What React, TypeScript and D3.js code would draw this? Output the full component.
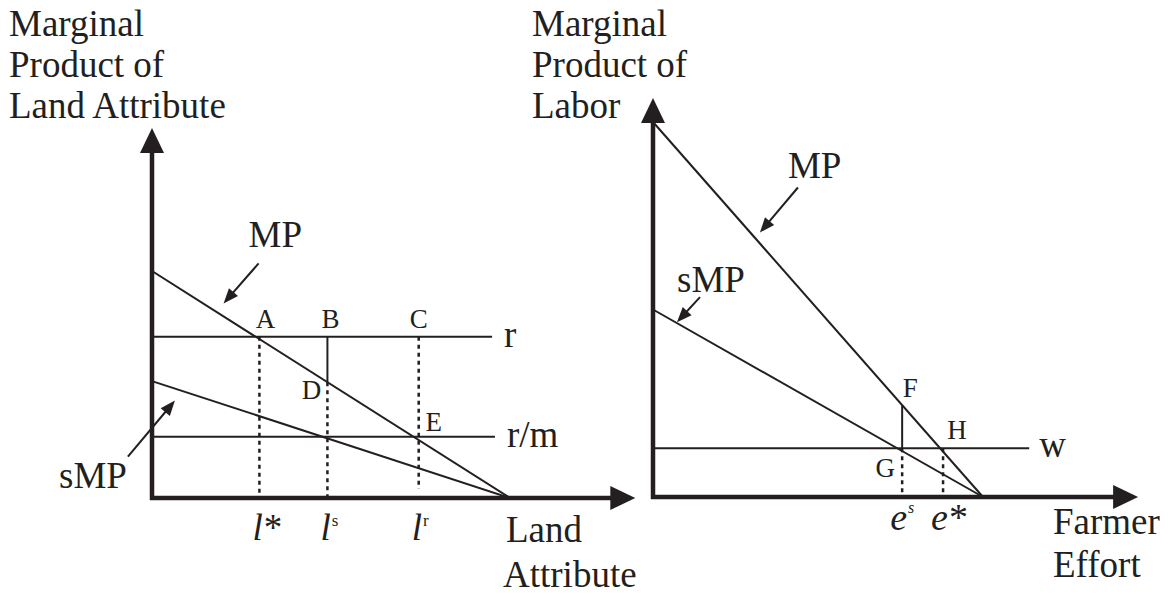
import React from 'react';
import * as d3 from 'd3';

// ---------- data ----------
// Left panel: land attribute
const leftCurveNames = ['MP', 'sMP'];
const leftCurveIntercepts = [10, 5.15]; // value at x = 0
const leftCurveZeros = [10, 10]; // x where curve meets axis
const leftLevelNames = ['r', 'r/m'];
const leftLevelValues = [7.1, 2.7];
const leftLevelEnds = [9.5, 9.58];
const leftTickValues = [3.0, 4.9, 7.45];
const leftTickBase = ['l', 'l', 'l'];
const leftTickSuffix = ['*', 's', 'r'];
const leftPointNames = ['A', 'B', 'C', 'D', 'E'];

// Right panel: labor
const rightCurveNames = ['MP', 'sMP'];
const rightCurveIntercepts = [10, 5];
const rightCurveZeros = [10, 10];
const rightLevelNames = ['w'];
const rightLevelValues = [1.3];
const rightLevelEnds = [11.4];
const rightTickValues = [7.55, 8.79];
const rightTickBase = ['e', 'e'];
const rightTickSuffix = ['s', '*'];
const rightPointNames = ['F', 'G', 'H'];

const leftYTitle = ['Marginal', 'Product of', 'Land Attribute'];
const leftXTitle = ['Land', 'Attribute'];
const rightYTitle = ['Marginal', 'Product of', 'Labor'];
const rightXTitle = ['Farmer', 'Effort'];

const FONT = "'Liberation Serif', 'Times New Roman', Times, serif";
const INK = '#231f20';

function lineVal(b: number, z: number, x: number) {
  return b * (1 - x / z);
}

function ArrowHead({ x1, y1, x2, y2, len = 14, hw = 5.5 }: any) {
  const dx = x2 - x1, dy = y2 - y1;
  const L = Math.hypot(dx, dy);
  const ux = dx / L, uy = dy / L;
  const bx = x2 - ux * len, by = y2 - uy * len;
  const px = -uy, py = ux;
  const pts = [
    [x2, y2],
    [bx + px * hw, by + py * hw],
    [bx - px * hw, by - py * hw],
  ];
  return <polygon points={pts.map((p) => p.join(',')).join(' ')} fill={INK} />;
}

function Pointer({ x1, y1, x2, y2 }: any) {
  const dx = x2 - x1, dy = y2 - y1;
  const L = Math.hypot(dx, dy);
  const ex = x2 - (dx / L) * 10, ey = y2 - (dy / L) * 10;
  return (
    <g>
      <line x1={x1} y1={y1} x2={ex} y2={ey} stroke={INK} strokeWidth={2} />
      <ArrowHead x1={x1} y1={y1} x2={x2} y2={y2} len={15} hw={6} />
    </g>
  );
}

function Axes({ xs, ys, xMax, yMax }: any) {
  const x0 = xs(0), y0 = ys(0);
  const xt = xs(xMax), yt = ys(yMax);
  return (
    <g>
      <line x1={x0} y1={y0 + 2} x2={x0} y2={yt + 24} stroke={INK} strokeWidth={4.5} />
      <polygon points={`${x0},${yt} ${x0 - 12},${yt + 25} ${x0 + 12},${yt + 25}`} fill={INK} />
      <line x1={x0 - 2} y1={y0} x2={xt - 24} y2={y0} stroke={INK} strokeWidth={4.5} />
      <polygon points={`${xt},${y0} ${xt - 25},${y0 - 12} ${xt - 25},${y0 + 12}`} fill={INK} />
    </g>
  );
}

export default function App() {
  // left scales
  const lx = d3.scaleLinear().domain([0, 10]).range([152, 510]);
  const ly = d3.scaleLinear().domain([0, 10]).range([498, 271]);
  // right scales
  const rx = d3.scaleLinear().domain([0, 10]).range([653, 983]);
  const ry = d3.scaleLinear().domain([0, 10]).range([497, 122]);

  const line = d3.line<[number, number]>();

  // left geometry
  const lMP = (x: number) => lineVal(leftCurveIntercepts[0], leftCurveZeros[0], x);
  const lSMP = (x: number) => lineVal(leftCurveIntercepts[1], leftCurveZeros[1], x);
  const [lStar, lS, lR] = leftTickValues;
  const [rVal, rmVal] = leftLevelValues;
  const dY = lMP(lS);

  // right geometry
  const rMP = (x: number) => lineVal(rightCurveIntercepts[0], rightCurveZeros[0], x);
  const rSMP = (x: number) => lineVal(rightCurveIntercepts[1], rightCurveZeros[1], x);
  const [eS, eStar] = rightTickValues;
  const wVal = rightLevelValues[0];
  const fY = rMP(eS);

  const textBase = { fontFamily: FONT, fill: INK } as any;
  const TITLE = 37;
  const PT = 27;

  // left point label anchors
  const leftPts: [number, number, number, number][] = [
    [lx(lStar), ly(rVal), 6, -9],
    [lx(lS), ly(rVal), 3, -9],
    [lx(lR), ly(rVal), 0, -9],
    [lx(lS), ly(dY), -16, 17],
    [lx(lR), ly(rmVal), 15, -6],
  ];
  const rightPts: [number, number, number, number][] = [
    [rx(eS), ry(fY), 8, -8],
    [rx(eS), ry(wVal), -17, 29],
    [rx(eStar), ry(wVal), 14, -9],
  ];

  // pointer anchors (point on curves)
  const lMPa = [lx(2.0), ly(lMP(2.0))];
  const lSMPa = [lx(0.64), ly(lSMP(0.64))];
  const rMPa = [rx(3.24), ry(rMP(3.24))];
  const rSMPa = [rx(0.727), ry(rSMP(0.727))];

  const dash = '4 4';

  return (
    <svg
      width={1172}
      height={594}
      style={{ position: 'absolute', left: 0, top: 0, background: '#fff' }}
    >
      <rect x={0} y={0} width={1172} height={594} fill="#fff" />

      {/* ================= LEFT PANEL ================= */}
      {leftYTitle.map((t, i) => (
        <text key={'lyt' + i} x={9} y={36 + i * 41} fontSize={TITLE} {...textBase}>
          {t}
        </text>
      ))}
      {leftXTitle.map((t, i) => (
        <text key={'lxt' + i} x={i === 0 ? 506 : 503} y={542 + i * 45} fontSize={TITLE} {...textBase}>
          {t}
        </text>
      ))}

      {/* levels */}
      {leftLevelValues.map((v, i) => (
        <g key={'ll' + i}>
          <line x1={lx(0)} y1={ly(v)} x2={lx(leftLevelEnds[i])} y2={ly(v)} stroke={INK} strokeWidth={2} />
          <text x={lx(leftLevelEnds[i]) + 12} y={ly(v) + 10} fontSize={TITLE} {...textBase}>
            {leftLevelNames[i]}
          </text>
        </g>
      ))}

      {/* dotted verticals */}
      <line x1={lx(lStar)} y1={ly(rVal)} x2={lx(lStar)} y2={ly(0)} stroke={INK} strokeWidth={2.5} strokeDasharray={dash} />
      <line x1={lx(lS)} y1={ly(rVal)} x2={lx(lS)} y2={ly(dY)} stroke={INK} strokeWidth={2} />
      <line x1={lx(lS)} y1={ly(dY)} x2={lx(lS)} y2={ly(0)} stroke={INK} strokeWidth={2.5} strokeDasharray={dash} />
      <line x1={lx(lR)} y1={ly(rVal)} x2={lx(lR)} y2={ly(0.4)} stroke={INK} strokeWidth={2.5} strokeDasharray={dash} />

      {/* curves */}
      {leftCurveIntercepts.map((b, i) => (
        <path
          key={'lc' + i}
          d={line([
            [lx(0), ly(b)],
            [lx(leftCurveZeros[i]), ly(0)],
          ]) as string}
          stroke={INK}
          strokeWidth={2}
          fill="none"
        />
      ))}

      <Axes xs={lx} ys={ly} xMax={13.5} yMax={16.3} />

      {/* point labels */}
      {leftPts.map(([x, y, dx, dy], i) => (
        <text key={'lp' + i} x={x + dx} y={y + dy} fontSize={PT} textAnchor="middle" {...textBase}>
          {leftPointNames[i]}
        </text>
      ))}

      {/* curve name pointers */}
      <Pointer x1={lMPa[0] + 35} y1={lMPa[1] - 53} x2={lMPa[0]} y2={lMPa[1] - 13} />
      <text x={lMPa[0] + 25} y={lMPa[1] - 69} fontSize={TITLE} {...textBase}>
        {leftCurveNames[0]}
      </text>
      <Pointer x1={lSMPa[0] - 47} y1={lSMPa[1] + 68} x2={lSMPa[0]} y2={lSMPa[1] + 12} />
      <text x={lSMPa[0] - 48} y={lSMPa[1] + 99} fontSize={TITLE} textAnchor="end" {...textBase}>
        {leftCurveNames[1]}
      </text>

      {/* ticks */}
      {leftTickValues.map((v, i) => (
        <text key={'lt' + i} x={lx(v) - 7} y={540} fontSize={37} {...textBase}>
          <tspan fontStyle="italic">{leftTickBase[i]}</tspan>
          {leftTickSuffix[i] === '*' ? (
            <tspan dx={1}>*</tspan>
          ) : (
            <tspan fontSize={17} dx={1} dy={-14}>
              {leftTickSuffix[i]}
            </tspan>
          )}
        </text>
      ))}

      {/* ================= RIGHT PANEL ================= */}
      {rightYTitle.map((t, i) => (
        <text key={'ryt' + i} x={532} y={36 + i * 41} fontSize={TITLE} {...textBase}>
          {t}
        </text>
      ))}
      {rightXTitle.map((t, i) => (
        <text key={'rxt' + i} x={1053} y={534 + i * 43} fontSize={TITLE} {...textBase}>
          {t}
        </text>
      ))}

      {rightLevelValues.map((v, i) => (
        <g key={'rl' + i}>
          <line x1={rx(0)} y1={ry(v)} x2={rx(rightLevelEnds[i])} y2={ry(v)} stroke={INK} strokeWidth={2} />
          <text x={rx(rightLevelEnds[i]) + 10} y={ry(v) + 9} fontSize={TITLE} {...textBase}>
            {rightLevelNames[i]}
          </text>
        </g>
      ))}

      <line x1={rx(eS)} y1={ry(fY)} x2={rx(eS)} y2={ry(wVal)} stroke={INK} strokeWidth={2} />
      <line x1={rx(eS)} y1={ry(wVal)} x2={rx(eS)} y2={ry(0)} stroke={INK} strokeWidth={2.5} strokeDasharray={dash} />
      <line x1={rx(eStar)} y1={ry(wVal)} x2={rx(eStar)} y2={ry(0)} stroke={INK} strokeWidth={2.5} strokeDasharray={dash} />

      {rightCurveIntercepts.map((b, i) => (
        <path
          key={'rc' + i}
          d={line([
            [rx(0), ry(b)],
            [rx(rightCurveZeros[i]), ry(0)],
          ]) as string}
          stroke={INK}
          strokeWidth={2}
          fill="none"
        />
      ))}

      <Axes xs={rx} ys={ry} xMax={14.7} yMax={10.64} />

      {rightPts.map(([x, y, dx, dy], i) => (
        <text key={'rp' + i} x={x + dx} y={y + dy} fontSize={PT} textAnchor="middle" {...textBase}>
          {rightPointNames[i]}
        </text>
      ))}

      <Pointer x1={rMPa[0] + 38} y1={rMPa[1] - 56} x2={rMPa[0]} y2={rMPa[1] - 11} />
      <text x={rMPa[0] + 28} y={rMPa[1] - 66} fontSize={TITLE} {...textBase}>
        {rightCurveNames[0]}
      </text>
      <Pointer x1={rSMPa[0] + 23} y1={rSMPa[1] - 26} x2={rSMPa[0]} y2={rSMPa[1] - 1} />
      <text x={rSMPa[0]} y={rSMPa[1] - 31} fontSize={TITLE} {...textBase}>
        {rightCurveNames[1]}
      </text>

      {rightTickValues.map((v, i) => (
        <text key={'rt' + i} x={rx(v) - 12} y={530} fontSize={38} {...textBase}>
          <tspan fontStyle="italic">{rightTickBase[i]}</tspan>
          {rightTickSuffix[i] === '*' ? (
            <tspan dx={1}>*</tspan>
          ) : (
            <tspan fontSize={16} fontStyle="italic" dx={1} dy={-17}>
              {rightTickSuffix[i]}
            </tspan>
          )}
        </text>
      ))}
    </svg>
  );
}
